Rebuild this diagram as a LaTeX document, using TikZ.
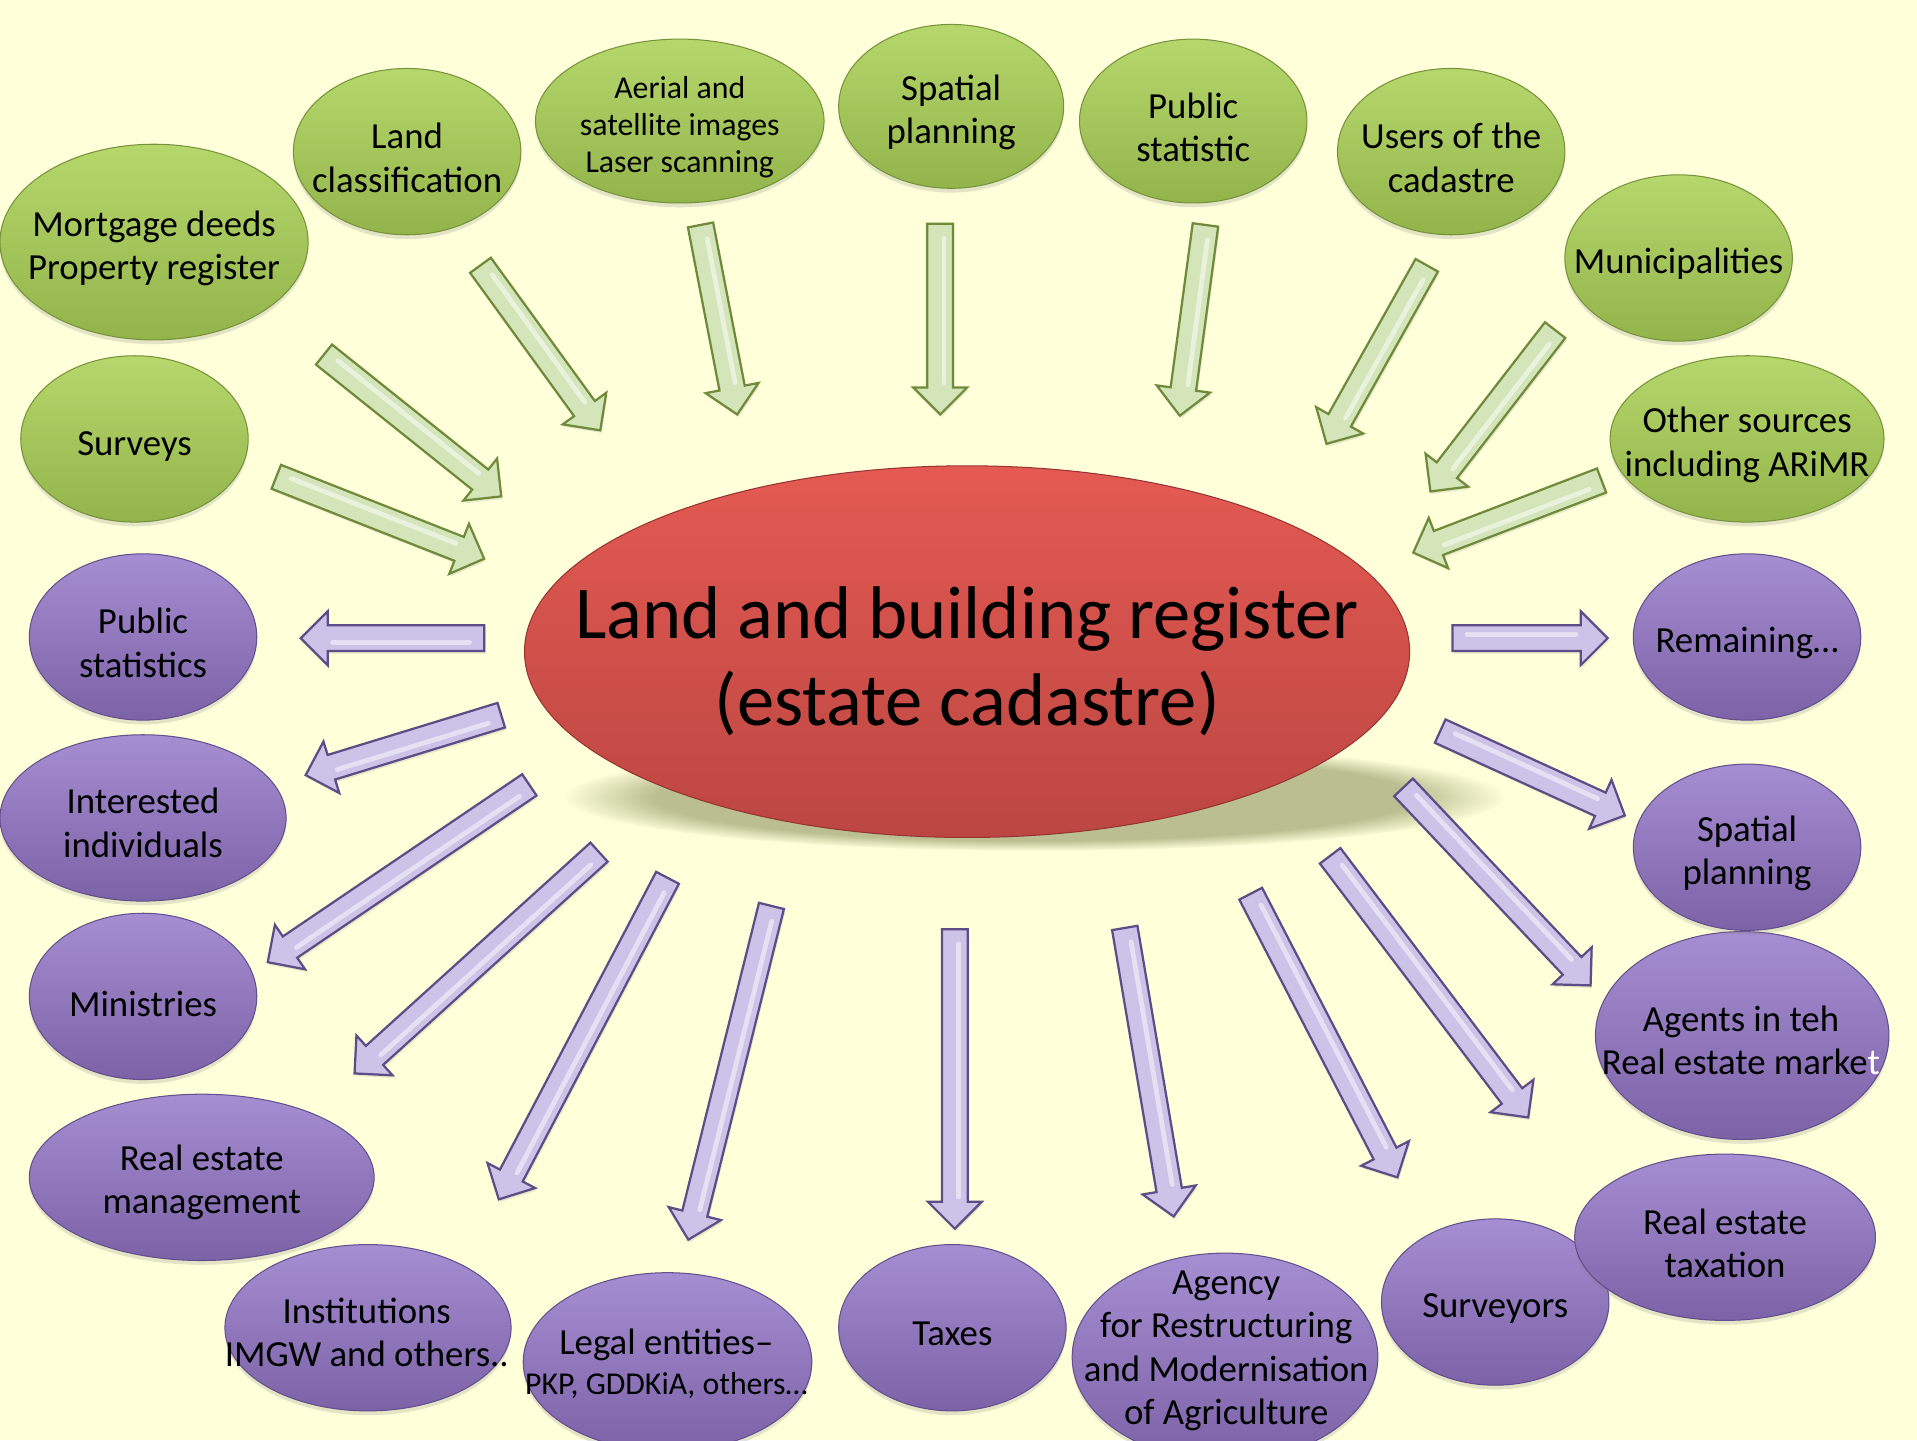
\documentclass[tikz,border=0pt]{standalone}
\usepackage{fontspec}
\setmainfont{Carlito}
\usetikzlibrary{shapes.geometric,calc,shadows,fadings}
\definecolor{bgc}{RGB}{255,255,217}
\definecolor{gtop}{RGB}{182,215,108}
\definecolor{gbot}{RGB}{146,180,74}
\definecolor{gedge}{RGB}{118,146,60}
\definecolor{ptop}{RGB}{166,142,210}
\definecolor{pbot}{RGB}{124,98,166}
\definecolor{pedge}{RGB}{100,78,140}
\definecolor{rtop}{RGB}{228,90,82}
\definecolor{rbot}{RGB}{188,70,66}
\definecolor{redge}{RGB}{150,52,50}
\definecolor{shcol}{RGB}{186,190,144}
\definecolor{gafill}{RGB}{212,229,186}
\definecolor{gaedge}{RGB}{110,138,58}
\definecolor{pafill}{RGB}{205,194,232}
\definecolor{paedge}{RGB}{94,76,134}
\def\asw{0.2625cm}
\def\ahw{0.55cm}
\def\ahl{0.55cm}
\newcommand\blockarr[3]{%
  \coordinate (q1) at ($(#3)!\ahl!(#2)$);
  \filldraw[#1] ($(#2)!\asw!90:(#3)$) -- ($(q1)!\asw!90:(#3)$) -- ($(q1)!\ahw!90:(#3)$) -- (#3)
    -- ($(q1)!\ahw!-90:(#3)$) -- ($(q1)!\asw!-90:(#3)$) -- ($(#2)!\asw!-90:(#3)$) -- cycle;
  \draw[white, opacity=0.5, line width=2.8pt, line cap=round]
    ($($(#2)!0.3cm!(#3)$)!0.08cm!90:(#3)$) -- ($($(q1)!0.1cm!(#2)$)!0.08cm!90:(#3)$);}
\begin{document}
\begin{tikzpicture}[x=0.025cm,y=-0.025cm,
  gel/.style 2 args={ellipse, inner sep=0pt, minimum width=#1*0.05cm, minimum height=#2*0.05cm,
     top color=gtop, bottom color=gbot, draw=gedge, line width=0.6pt,
     drop shadow={opacity=0.22, shadow xshift=0pt, shadow yshift=-2.5pt}},
  pel/.style 2 args={ellipse, inner sep=0pt, minimum width=#1*0.05cm, minimum height=#2*0.05cm,
     top color=ptop, bottom color=pbot, draw=pedge, line width=0.6pt,
     drop shadow={opacity=0.22, shadow xshift=0pt, shadow yshift=-2.5pt}},
  lbl/.style={font=\fontsize{21.4pt}{25.3pt}\selectfont, align=center, inner sep=0pt, text=black},
  slbl/.style={font=\fontsize{18.5pt}{21.3pt}\selectfont, align=center, inner sep=0pt, text=black},
  xlbl/.style={font=\fontsize{43.4pt}{51pt}\selectfont, align=center, inner sep=0pt, text=black},
  garr/.style={fill=gafill, draw=gaedge, line width=1.3pt,
     drop shadow={opacity=0.18, shadow xshift=0.8pt, shadow yshift=-1.5pt}},
  parr/.style={fill=pafill, draw=paedge, line width=1.3pt,
     drop shadow={opacity=0.18, shadow xshift=0.8pt, shadow yshift=-1.5pt}}]
\fill[bgc] (0,0) rectangle (1568,1178);
\useasboundingbox (0,0) rectangle (1568,1178);

% centre shadow and ellipse
\fill[shcol, path fading=circle with fuzzy edge 20 percent] (846,652) ellipse [x radius=9.6cm, y radius=1.1cm];
\node[ellipse, inner sep=0pt, minimum width=724*0.025cm, minimum height=304*0.025cm,
  top color=rtop, bottom color=rbot, draw=redge, line width=0.6pt] (reg) at (791,533) {};

% green ellipses
\node[gel={126}{80}] (mort) at (126,198) {};
\node[gel={93}{68}] (landc) at (333,124) {};
\node[gel={118}{67}] (aerial) at (556,99) {};
\node[gel={92}{67}] (spat) at (778,87) {};
\node[gel={93}{67}] (pubst) at (976,99) {};
\node[gel={93}{68}] (users) at (1187,124) {};
\node[gel={93}{68}] (munic) at (1373,211) {};
\node[gel={112}{68}] (other) at (1429,359) {};
\node[gel={93}{68}] (surv) at (110,359) {};

% purple ellipses
\node[pel={93}{68}] (pstat) at (117,521) {};
\node[pel={117}{68}] (intr) at (117,669) {};
\node[pel={93}{68}] (mini) at (117,815) {};
\node[pel={141}{68}] (rem) at (165,963) {};
\node[pel={117}{68}] (inst) at (301,1086) {};
\node[pel={118}{73}] (legal) at (546,1114) {};
\node[pel={93}{68}] (taxes) at (779,1086) {};
\node[pel={125}{85}] (agency) at (1002,1110) {};
\node[pel={93}{68}] (survr) at (1223,1065) {};
\node[pel={123}{68}] (retax) at (1411,1012) {};
\node[pel={120}{85}] (agents) at (1425,847) {};
\node[pel={93}{68}] (pspat) at (1429,693) {};
\node[pel={93}{68}] (remain) at (1429,521) {};

% texts
\node[xlbl] (regT) at (791,541) {Land and building register\\(estate cadastre)};
\node[lbl] (mortT) at (126,203) {Mortgage deeds\\Property register};
\node[lbl] (landcT) at (333,129) {Land\\classification};
\node[slbl] (aerialT) at (556,104) {Aerial and\\satellite images\\Laser scanning};
\node[lbl] (spatT) at (778,92) {Spatial\\planning};
\node[lbl] (pubstT) at (976,104) {Public\\statistic};
\node[lbl] (usersT) at (1187,129) {Users of the\\cadastre};
\node[lbl] (municT) at (1373,216) {Municipalities};
\node[lbl] (otherT) at (1429,364) {Other sources\\including ARiMR};
\node[lbl] (survT) at (110,365) {Surveys};
\node[lbl] (pstatT) at (117,526) {Public\\statistics};
\node[lbl] (intrT) at (117,673) {Interested\\individuals};
\node[lbl] (miniT) at (117,821) {Ministries};
\node[lbl] (remT) at (165,967) {Real estate\\management};
\node[lbl] (instT) at (300,1090) {Institutions\\IMGW and others..};
\node[lbl] (legalT) at (545,1100) {Legal entities–};
\node[slbl] (legalT2) at (545,1133) {PKP, GDDKiA, others…};
\node[lbl] (taxesT) at (779,1091) {Taxes};
\node[lbl] (agencyT) at (1003,1105) {Agency\\for Restructuring\\and Modernisation\\of Agriculture};
\node[lbl] (survrT) at (1223,1070) {Surveyors};
\node[lbl] (retaxT) at (1411,1017) {Real estate\\taxation};
\node[lbl] (agentsT) at (1424,851) {Agents in teh\\Real estate marke\textcolor{white}{t}};
\node[lbl] (pspatT) at (1429,698) {Spatial\\planning};
\node[lbl] (remainT) at (1429,526) {Remaining…};

% green arrows (towards register)
\coordinate (g1s) at (226,390);  \coordinate (g1e) at (396,457);
\coordinate (g2s) at (265,290);  \coordinate (g2e) at (410,406);
\coordinate (g3s) at (393,217);  \coordinate (g3e) at (491,352);
\coordinate (g4s) at (573,184);  \coordinate (g4e) at (603,339);
\coordinate (g5s) at (769,183);  \coordinate (g5e) at (769,339);
\coordinate (g6s) at (986,184);  \coordinate (g6e) at (965,340);
\coordinate (g7s) at (1167,217); \coordinate (g7e) at (1085,363);
\coordinate (g8s) at (1272,270); \coordinate (g8e) at (1170,402);
\coordinate (g9s) at (1310,393); \coordinate (g9e) at (1156,452);
\foreach \i in {1,...,9}{\blockarr{garr}{g\i s}{g\i e}}

% purple arrows (from register)
\coordinate (p1s) at (396,522);   \coordinate (p1e) at (246,522);
\coordinate (p2s) at (410,585);   \coordinate (p2e) at (250,634);
\coordinate (p3s) at (433,642);   \coordinate (p3e) at (219,787);
\coordinate (p4s) at (490,697);   \coordinate (p4e) at (290,878);
\coordinate (p5s) at (546,718);   \coordinate (p5e) at (408,981);
\coordinate (p6s) at (631,741);   \coordinate (p6e) at (563,1014);
\coordinate (p7s) at (781,760);   \coordinate (p7e) at (781,1005);
\coordinate (p8s) at (920,759);   \coordinate (p8e) at (960,995);
\coordinate (p9s) at (1023,731);  \coordinate (p9e) at (1143,963);
\coordinate (p10s) at (1088,700); \coordinate (p10e) at (1250,914);
\coordinate (p11s) at (1148,644); \coordinate (p11e) at (1301,806);
\coordinate (p12s) at (1178,598); \coordinate (p12e) at (1329,667);
\coordinate (p13s) at (1188,522); \coordinate (p13e) at (1315,522);
\foreach \i in {1,...,13}{\blockarr{parr}{p\i s}{p\i e}}
\end{tikzpicture}
\end{document}
